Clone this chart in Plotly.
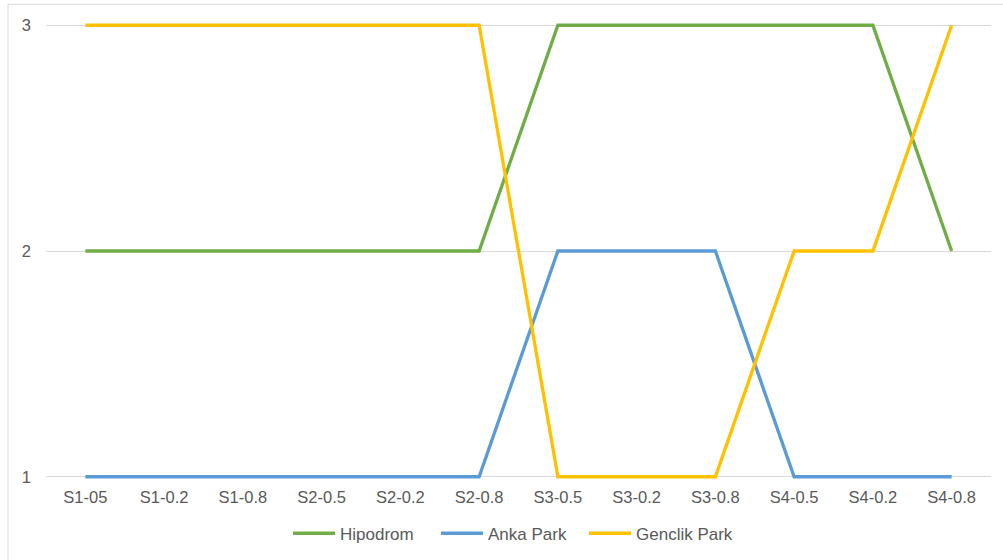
import plotly.graph_objects as go

categories = ["S1-05", "S1-0.2", "S1-0.8", "S2-0.5", "S2-0.2", "S2-0.8",
              "S3-0.5", "S3-0.2", "S3-0.8", "S4-0.5", "S4-0.2", "S4-0.8"]
hipodrom = [2, 2, 2, 2, 2, 2, 3, 3, 3, 3, 3, 2]
anka_park = [1, 1, 1, 1, 1, 1, 2, 2, 2, 1, 1, 1]
genclik_park = [3, 3, 3, 3, 3, 3, 1, 1, 1, 2, 2, 3]
y_ticks = [1, 2, 3]

series = [
    ("Hipodrom", hipodrom, "#70AD47"),
    ("Anka Park", anka_park, "#5B9BD5"),
    ("Genclik Park", genclik_park, "#FFC000"),
]

fig = go.Figure()
for name, vals, color in series:
    fig.add_trace(go.Scatter(x=categories, y=vals, name=name, mode="lines",
                             line=dict(color=color, width=3.3)))

font = dict(family="Liberation Sans, Arial, sans-serif", size=16.5, color="#595959")
legend_font = dict(family="Liberation Sans, Arial, sans-serif", size=17, color="#595959")

fig.update_layout(
    width=1003, height=560,
    margin=dict(l=46, r=12, t=22.7, b=80.7, autoexpand=False),
    paper_bgcolor="white", plot_bgcolor="white",
    font=font,
    showlegend=True,
    legend=dict(orientation="h", x=0.491, xanchor="center", y=-0.12, yanchor="middle",
                font=legend_font, itemwidth=42, tracegroupgap=0, entrywidth=91),
    xaxis=dict(type="category", range=[-0.5, 11.5], showgrid=False, zeroline=False,
               showline=False, ticks="", ticklabelstandoff=6, automargin=False),
    yaxis=dict(range=[0.99, 3.01], tickvals=y_ticks, showgrid=True, gridcolor="#d9d9d9",
               gridwidth=1, zeroline=False, showline=False, ticks="", ticklabelstandoff=14,
               automargin=False),
    shapes=[
        dict(type="line", xref="paper", yref="paper", x0=-0.0402, x1=1.02, y0=1.041, y1=1.041,
             line=dict(color="#d9d9d9", width=1)),
        dict(type="line", xref="paper", yref="paper", x0=-0.0402, x1=-0.0402, y0=1.041, y1=-0.2,
             line=dict(color="#d9d9d9", width=1)),
    ],
)

fig.write_html("out.html")
